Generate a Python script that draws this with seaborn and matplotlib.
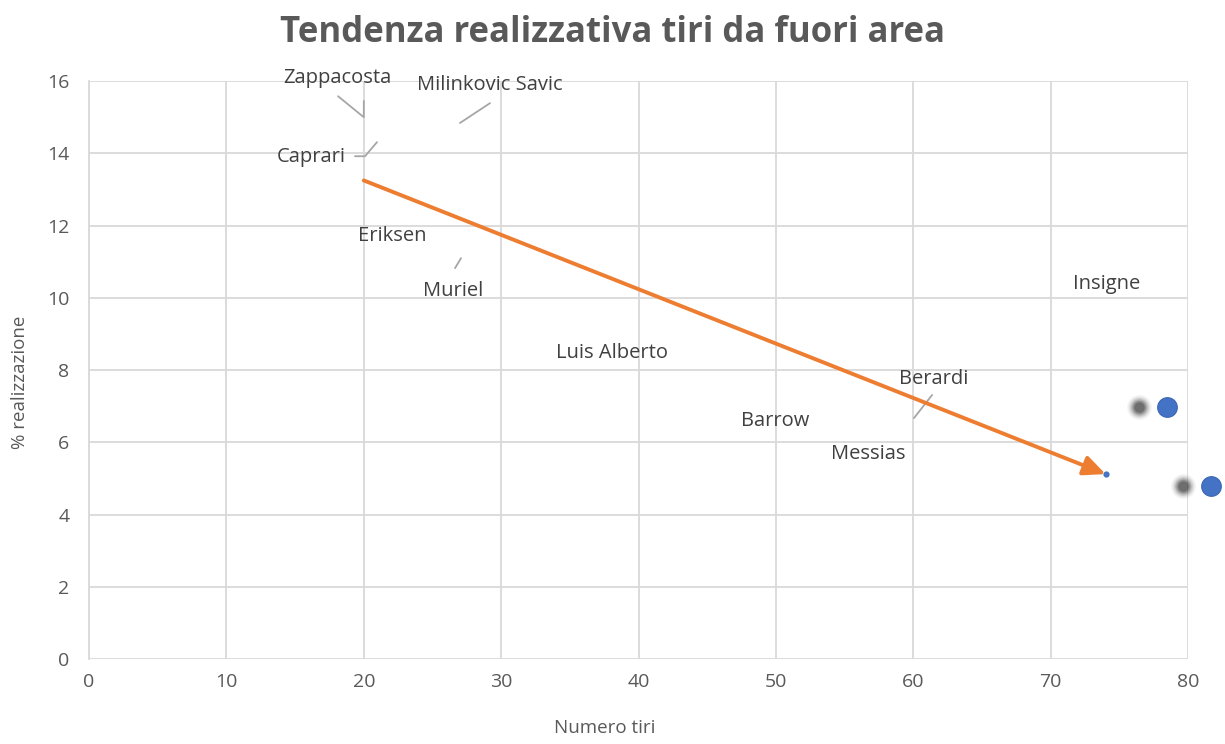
import matplotlib
matplotlib.use("Agg")
import matplotlib.pyplot as plt
import matplotlib.transforms as mtransforms
import pandas as pd
import seaborn as sns

# labels (placed where the data labels sit in the chart)
players = ["Zappacosta", "Milinkovic Savic", "Caprari", "Eriksen", "Muriel",
           "Luis Alberto", "Barrow", "Messias", "Berardi", "Insigne"]
label_tiri = [18.05, 29.2, 16.15, 22.1, 26.5, 38.05, 49.95, 56.7, 61.5, 74.1]
label_perc = [16.08, 15.9, 13.9, 11.7, 10.2, 8.47, 6.59, 5.67, 7.75, 10.38]

# leader lines of the data labels
leaders = [
    ([18.13, 20.0, 20.0], [15.58, 15.0, 15.45]),
    ([29.19, 27.0], [15.39, 14.84]),
    ([19.36, 20.09, 20.96], [13.92, 13.92, 14.31]),
    ([26.64, 27.08], [10.82, 11.1]),
    ([61.37, 60.05], [7.31, 6.67]),
]

# visible markers
pt_tiri = [78.5, 81.7]
pt_perc = [6.98, 4.79]

# trend arrow
trend_x = [20, 74]
trend_y = [13.25, 5.12]

sns.set_theme(style="whitegrid")
plt.rcParams["font.family"] = ["Open Sans", "DejaVu Sans"]

fig = plt.figure(figsize=(12.25, 7.44), dpi=100)
ax = fig.add_axes([0.0727, 0.1142, 0.8971, 0.7768])

grid_c = "#D9D9D9"
ax.set_xlim(0, 80)
ax.set_ylim(0, 16)
ax.set_xticks(range(0, 81, 10))
ax.set_yticks(range(0, 17, 2))
ax.grid(True, color=grid_c, linewidth=1.3)
for s in ["top", "right", "bottom"]:
    ax.spines[s].set_visible(False)
ax.spines["left"].set_color(grid_c)
ax.spines["left"].set_linewidth(1.3)
ax.tick_params(axis="both", colors="#595959", labelsize=14, length=0)
ax.tick_params(axis="y", pad=14)
ax.tick_params(axis="x", pad=10)

# blurred shadows behind the markers
shadow = mtransforms.offset_copy(ax.transData, fig=fig, x=-28, y=0, units="dots")
for s, a in [(320, 0.05), (250, 0.08), (190, 0.12), (140, 0.18), (95, 0.28), (55, 0.35)]:
    ax.scatter(pt_tiri, pt_perc, s=s, color="#333333", alpha=a, linewidths=0,
               transform=shadow, clip_on=False, zorder=3)

df = pd.DataFrame({"tiri": pt_tiri, "perc": pt_perc})
sns.scatterplot(data=df, x="tiri", y="perc", ax=ax, s=200, color="#4472C4",
                edgecolor="#3b66b5", linewidth=0.8, clip_on=False, zorder=4)

for lx, ly in leaders:
    ax.plot(lx, ly, color="#A6A6A6", linewidth=1.3, zorder=2)

for name, x, y in zip(players, label_tiri, label_perc):
    ax.text(x, y, name, ha="center", va="center", fontsize=14.5, color="#404040", zorder=5)

ax.scatter([trend_x[1]], [trend_y[1]], s=12, color="#4472C4", zorder=4)
ax.annotate("", xy=(trend_x[1], trend_y[1]), xytext=(trend_x[0], trend_y[0]),
            arrowprops=dict(arrowstyle="-|>,head_length=1.1,head_width=0.5",
                            color="#ED7D31", lw=2.8, shrinkA=0, shrinkB=0), zorder=5)

ax.set_xlabel("Numero tiri", fontsize=13.5, color="#595959")
ax.xaxis.set_label_coords(0.469, -0.104)
ax.set_ylabel("% realizzazione", fontsize=13.5, color="#595959")
ax.yaxis.set_label_coords(-0.055, 0.478)
fig.suptitle("Tendenza realizzativa tiri da fuori area", fontsize=25, fontweight="bold",
             color="#595959", y=0.98)

fig.savefig("out.png", dpi=100)
